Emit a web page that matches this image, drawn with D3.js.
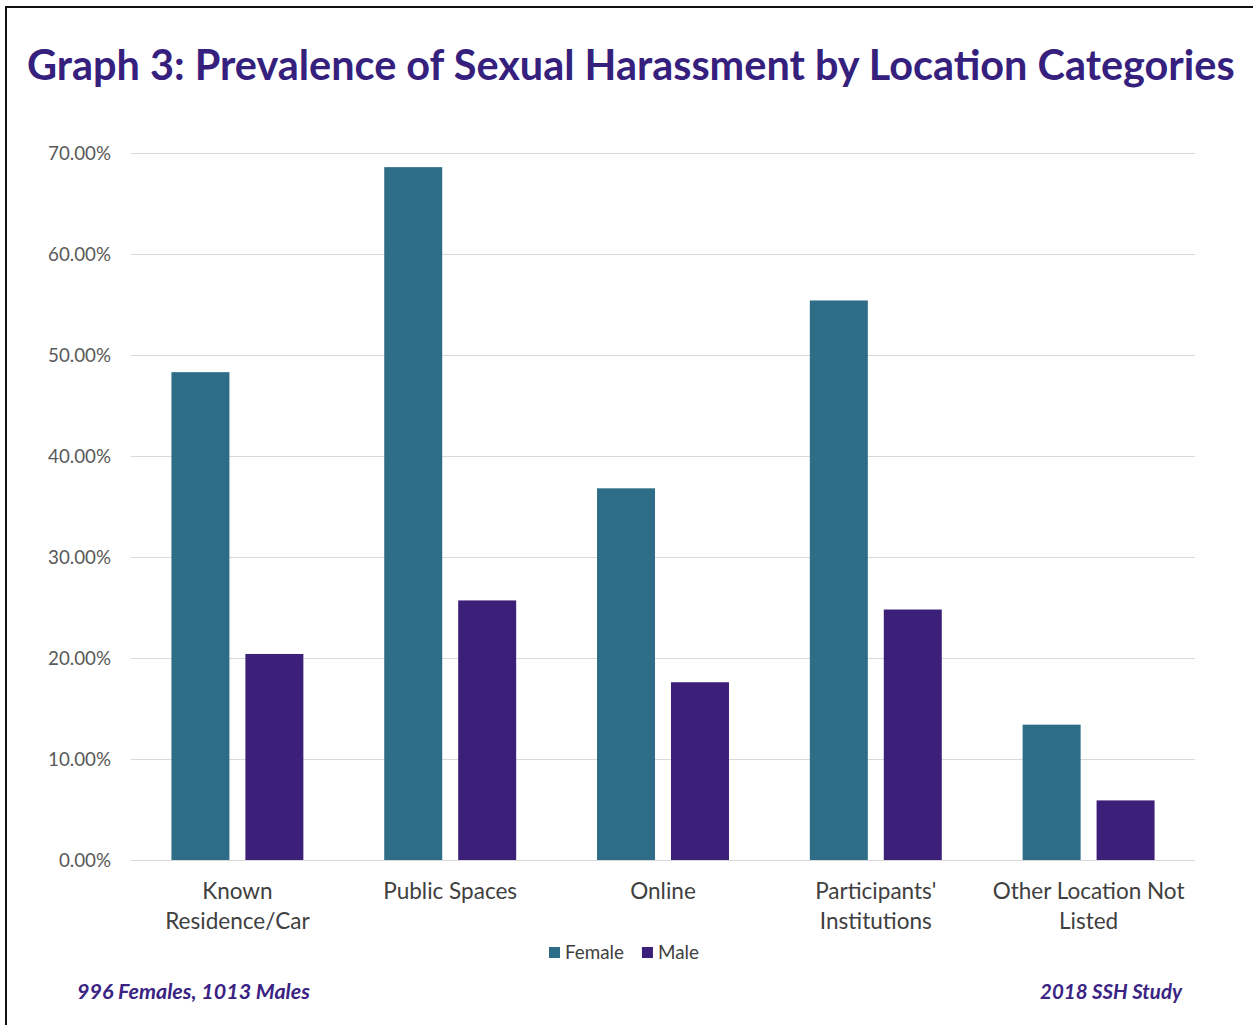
<!DOCTYPE html>
<html><head><meta charset="utf-8">
<script src="https://cdn.jsdelivr.net/npm/d3@7"></script>
<style>body{margin:0;background:#fff}svg{display:block}</style>
</head><body>
<svg id="c" width="1253" height="1025"></svg>
<script>
const categories = [["Known","Residence/Car"],["Public Spaces"],["Online"],["Participants'","Institutions"],["Other Location Not","Listed"]];
const seriesNames = ["Female","Male"];
const female = [48.3, 68.6, 36.8, 55.4, 13.4];
const male = [20.4, 25.7, 17.6, 24.8, 5.9];
const yTicks = [0,10,20,30,40,50,60,70];
const titleText = "Graph 3: Prevalence of Sexual Harassment by Location Categories";
const noteLeft = "996 Females, 1013 Males";
const noteRight = "2018 SSH Study";

const colors = {Female:"#2d6d87", Male:"#3b1f78"};
const svg = d3.select("#c");
const FONT = "Lato, 'Open Sans', sans-serif";

// border
svg.append("rect").attr("x",6).attr("y",7).attr("width",1260).attr("height",1040)
  .attr("fill","none").attr("stroke","#111").attr("stroke-width",2);

function fitSize(fontSize, weight, style, str, target){
  const t = svg.append("text").attr("font-family",FONT).attr("font-size",fontSize)
    .attr("font-weight",weight).attr("font-style",style).text(str);
  const w = t.node().getComputedTextLength();
  t.remove();
  return fontSize*target/w;
}

const titleSize = fitSize(36,700,"normal",titleText,1208);
svg.append("text").attr("x",27).attr("y",80)
  .attr("font-family",FONT).attr("font-weight",700).attr("font-size",titleSize)
  .attr("fill","#35207d").text(titleText);

const pLeft=131, pRight=1195, pTop=153, pBottom=860;
const x0 = d3.scaleBand().domain(d3.range(categories.length)).range([pLeft,pRight]).paddingInner(0.38).paddingOuter(0.19);
const x1 = d3.scaleBand().domain(seriesNames).range([0,x0.bandwidth()]).paddingInner(0.216);
const y = d3.scaleLinear().domain([0,70]).range([pBottom,pTop]);

const tickSize = fitSize(16,400,"normal","70.00%",63);
const yAxis = d3.axisLeft(y).tickValues(yTicks).tickSize(-(pRight-pLeft)).tickFormat(d=>d3.format(".2f")(d)+"%");
const gy = svg.append("g").attr("transform",`translate(${pLeft},0)`).call(yAxis);
gy.select(".domain").remove();
gy.selectAll(".tick line").attr("stroke","#d9d9d9").attr("stroke-width",1);
gy.selectAll(".tick text").attr("x",-20).attr("dy","0.33em").attr("fill","#595959")
  .attr("font-family",FONT).attr("font-size",tickSize).attr("font-weight",400);

const data = categories.map((c,i)=>({i, vals:[{k:"Female",v:female[i]},{k:"Male",v:male[i]}]}));
svg.append("g").selectAll("g").data(data).join("g")
  .attr("transform",d=>`translate(${x0(d.i)},0)`)
  .selectAll("rect").data(d=>d.vals).join("rect")
  .attr("x",d=>x1(d.k)).attr("width",x1.bandwidth())
  .attr("y",d=>y(d.v)).attr("height",d=>y(0)-y(d.v))
  .attr("fill",d=>colors[d.k]);

// category labels
const catSize = fitSize(20,400,"normal","Other Location Not",192);
const cl = svg.append("g");
categories.forEach((lines,i)=>{
  const cx = x0(i)+x0.bandwidth()/2;
  lines.forEach((ln,j)=>{
    cl.append("text").attr("x",cx).attr("y",899+j*30).attr("text-anchor","middle")
      .attr("font-family",FONT).attr("font-size",catSize).attr("fill","#404040").text(ln);
  });
});

// legend
const legSize = fitSize(17,400,"normal","Female",59);
const lg = svg.append("g");
let lx = 549;
seriesNames.forEach((s,i)=>{
  lg.append("rect").attr("x",lx).attr("y",947).attr("width",11).attr("height",11).attr("fill",colors[s]);
  const t = lg.append("text").attr("x",lx+16).attr("y",959).attr("font-family",FONT).attr("font-size",legSize)
    .attr("fill","#404040").text(s);
  lx = lx + 16 + t.node().getComputedTextLength() + 18;
});

const noteSize = fitSize(19,700,"italic",noteLeft,233);
const noteSize2 = fitSize(19,700,"italic",noteRight,142);
svg.append("text").attr("x",77).attr("y",999).attr("font-family",FONT).attr("font-weight",700)
  .attr("font-style","italic").attr("font-size",noteSize).attr("fill","#3a2383").text(noteLeft);
svg.append("text").attr("x",1182).attr("y",999).attr("text-anchor","end").attr("font-family",FONT).attr("font-weight",700)
  .attr("font-style","italic").attr("font-size",noteSize2).attr("fill","#3a2383").text(noteRight);
</script>
</body></html>
